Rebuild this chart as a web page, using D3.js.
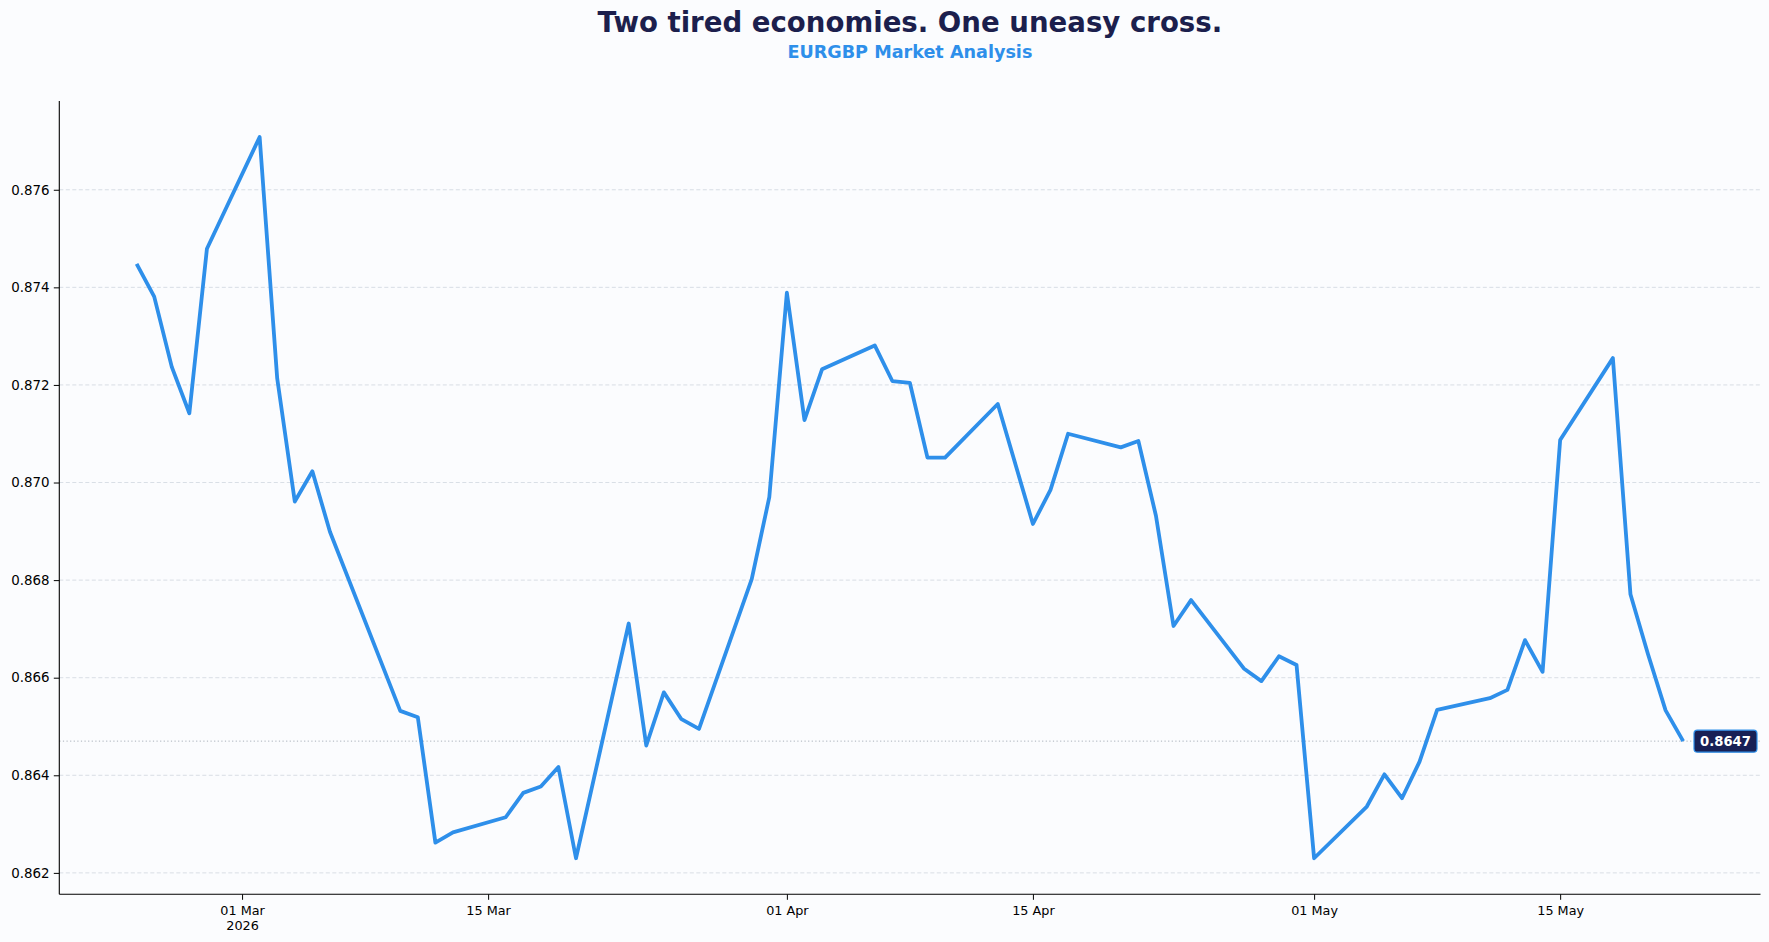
<!DOCTYPE html>
<html>
<head>
<meta charset="utf-8">
<script src="https://cdn.jsdelivr.net/npm/d3@7"></script>
<style>
  html, body { margin: 0; padding: 0; background: #fbfcfe; }
  svg { display: block; font-family: "DejaVu Sans", sans-serif; }
</style>
</head>
<body>
<svg id="chart" width="1769" height="942"></svg>
<script>
// ---- data ----
const dates = [
  "2026-02-23","2026-02-24","2026-02-25","2026-02-26","2026-02-27",
  "2026-03-02","2026-03-03","2026-03-04","2026-03-05","2026-03-06",
  "2026-03-10","2026-03-11","2026-03-12","2026-03-13",
  "2026-03-16","2026-03-17","2026-03-18","2026-03-19","2026-03-20",
  "2026-03-23","2026-03-24","2026-03-25","2026-03-26","2026-03-27",
  "2026-03-30","2026-03-31","2026-04-01","2026-04-02","2026-04-03",
  "2026-04-06","2026-04-07","2026-04-08","2026-04-09","2026-04-10",
  "2026-04-13","2026-04-15","2026-04-16","2026-04-17",
  "2026-04-20","2026-04-21","2026-04-22","2026-04-23","2026-04-24",
  "2026-04-27","2026-04-28","2026-04-29","2026-04-30","2026-05-01",
  "2026-05-04","2026-05-05","2026-05-06","2026-05-07","2026-05-08",
  "2026-05-11","2026-05-12","2026-05-13","2026-05-14","2026-05-15",
  "2026-05-18","2026-05-19","2026-05-20","2026-05-21","2026-05-22"
];
const eurgbp = [
  0.87448,0.87381,0.87237,0.87142,0.87479,
  0.87708,0.87213,0.86961,0.87023,0.86899,
  0.86532,0.86519,0.86262,0.86283,
  0.86314,0.86364,0.86377,0.86417,0.86230,
  0.86711,0.86461,0.86570,0.86515,0.86495,
  0.86802,0.86970,0.87389,0.87128,0.87232,
  0.87281,0.87208,0.87204,0.87051,0.87051,
  0.87161,0.86915,0.86985,0.87100,
  0.87072,0.87085,0.86932,0.86706,0.86759,
  0.86619,0.86593,0.86644,0.86626,0.86230,
  0.86336,0.86402,0.86353,0.86428,0.86534,
  0.86558,0.86575,0.86677,0.86612,0.87087,
  0.87255,0.86771,0.86648,0.86533,0.86470
];
const yTicks = [0.862,0.864,0.866,0.868,0.870,0.872,0.874,0.876];
const xTickDates = ["2026-03-01","2026-03-15","2026-04-01","2026-04-15","2026-05-01","2026-05-15"];
const xTickLabels = [["01 Mar","2026"],["15 Mar"],["01 Apr"],["15 Apr"],["01 May"],["15 May"]];
const titleText = "Two tired economies. One uneasy cross.";
const subtitleText = "EURGBP Market Analysis";

// ---- layout ----
const W = 1769, H = 942;
const m = {left: 59.3, right: W - 1760.5, top: 101, bottom: H - 894.3};
const parse = d3.utcParse("%Y-%m-%d");
const data = dates.map((d, i) => ({date: parse(d), value: eurgbp[i]}));

const svg = d3.select("#chart");
svg.append("rect").attr("width", W).attr("height", H).attr("fill", "#fbfcfe");

const xExt = d3.extent(data, d => d.date);
const xSpan = xExt[1] - xExt[0];
const x = d3.scaleUtc()
  .domain([new Date(+xExt[0] - 0.05 * xSpan), new Date(+xExt[1] + 0.05 * xSpan)])
  .range([m.left, W - m.right]);

const yExt = d3.extent(data, d => d.value);
const ySpan = yExt[1] - yExt[0];
const y = d3.scaleLinear()
  .domain([yExt[0] - 0.05 * ySpan, yExt[1] + 0.05 * ySpan])
  .range([H - m.bottom, m.top]);

// grid
svg.append("g").selectAll("line").data(yTicks).join("line")
  .attr("x1", m.left).attr("x2", W - m.right)
  .attr("y1", d => y(d)).attr("y2", d => y(d))
  .attr("stroke", "#cfd5de").attr("stroke-width", 0.8)
  .attr("stroke-dasharray", "4,2.5");

// last value reference line
const last = data[data.length - 1];
svg.append("line")
  .attr("x1", m.left).attr("x2", W - m.right)
  .attr("y1", y(last.value)).attr("y2", y(last.value))
  .attr("stroke", "#a9b0ba").attr("stroke-width", 1)
  .attr("stroke-dasharray", "1.2,2.4");

// line
const line = d3.line().x(d => x(d.date)).y(d => y(d.value));
svg.append("path").datum(data)
  .attr("d", line)
  .attr("fill", "none")
  .attr("stroke", "#2e8fea")
  .attr("stroke-width", 3.8)
  .attr("stroke-linejoin", "round")
  .attr("stroke-linecap", "butt");

// y axis
const yAxis = svg.append("g")
  .attr("transform", `translate(${m.left},0)`)
  .call(d3.axisLeft(y).tickValues(yTicks).tickFormat(d3.format(".3f")).tickSizeOuter(0).tickSize(5.5).tickPadding(4.2));
yAxis.select(".domain").attr("stroke", "#000").attr("stroke-width", 1.1)
  .attr("d", `M0,${m.top}V${H - m.bottom}`);
yAxis.selectAll(".tick line").attr("stroke", "#000").attr("stroke-width", 1);
yAxis.selectAll(".tick text").attr("fill", "#000").attr("font-size", "13.4px")
  .attr("font-family", "DejaVu Sans, sans-serif");

// x axis
const xAxis = svg.append("g")
  .attr("transform", `translate(0,${H - m.bottom})`)
  .call(d3.axisBottom(x).tickValues(xTickDates.map(parse)).tickFormat(() => "").tickSizeOuter(0).tickSize(5.5));
xAxis.select(".domain").attr("stroke", "#000").attr("stroke-width", 1.1)
  .attr("d", `M${m.left},0H${W - m.right}`);
xAxis.selectAll(".tick line").attr("stroke", "#000").attr("stroke-width", 1);
xAxis.selectAll(".tick text").each(function(d, i) {
  const t = d3.select(this)
    .attr("y", 0).attr("dy", null)
    .attr("fill", "#000").attr("font-size", "12.8px")
    .attr("font-family", "DejaVu Sans, sans-serif")
    .attr("text-anchor", "middle");
  t.text(null);
  xTickLabels[i].forEach((s, k) => {
    t.append("tspan").attr("x", 0).attr("y", 20.7 + k * 15.2).text(s);
  });
});

// last value label
const lbl = svg.append("g").attr("transform", `translate(${1725.5},${y(last.value)})`);
lbl.append("rect")
  .attr("x", -31.5).attr("y", -11).attr("width", 63).attr("height", 22)
  .attr("rx", 3.5).attr("ry", 3.5)
  .attr("fill", "#182055").attr("stroke", "#2e8fea").attr("stroke-width", 1.2);
lbl.append("text")
  .attr("text-anchor", "middle").attr("dy", "0.36em")
  .attr("fill", "#ffffff").attr("font-weight", "bold").attr("font-size", "13.2px")
  .text(d3.format(".4f")(last.value));

// titles
const cx = (m.left + W - m.right) / 2;
svg.append("text")
  .attr("x", cx).attr("y", 32)
  .attr("text-anchor", "middle")
  .attr("font-weight", "bold").attr("font-size", "27.6px")
  .attr("fill", "#1c1f4d")
  .text(titleText);
svg.append("text")
  .attr("x", cx).attr("y", 57.5)
  .attr("text-anchor", "middle")
  .attr("font-weight", "bold").attr("font-size", "17.6px")
  .attr("fill", "#2e8fea")
  .text(subtitleText);
</script>
</body>
</html>
